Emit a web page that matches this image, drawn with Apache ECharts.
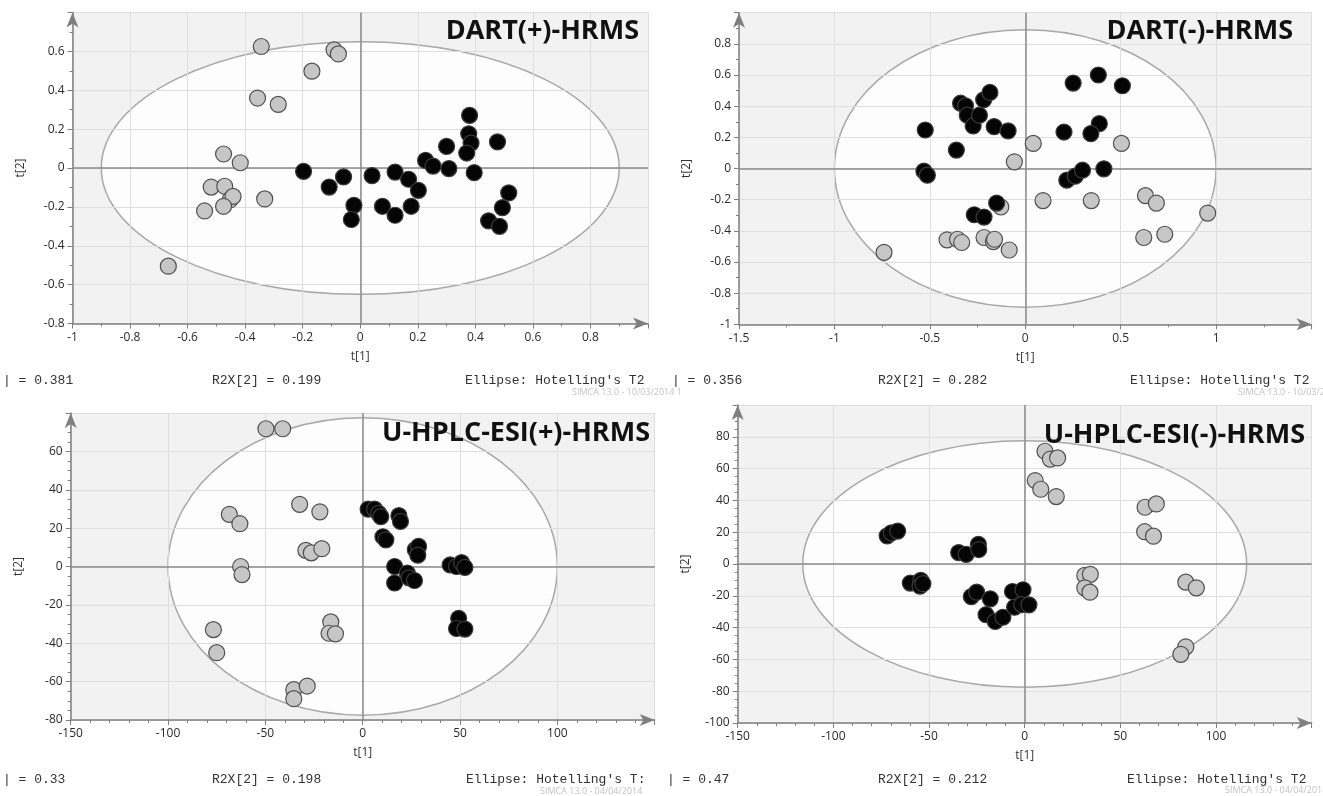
<!DOCTYPE html>
<html>
<head>
<meta charset="utf-8">
<script src="https://cdn.jsdelivr.net/npm/echarts@6/dist/echarts.min.js"></script>
<style>
html,body{margin:0;padding:0;background:#fff;}
#main{width:1323px;height:796px;}
</style>
</head>
<body>
<div id="main"></div>
<script>
// score points [t1, t2]
var dartPosGray = [[-0.344,0.625],[-0.091,0.608],[-0.076,0.587],[-0.168,0.498],[-0.357,0.36],[-0.285,0.327],[-0.475,0.072],[-0.417,0.027],[-0.518,-0.098],[-0.471,-0.094],[-0.452,-0.163],[-0.442,-0.146],[-0.475,-0.197],[-0.541,-0.221],[-0.332,-0.159],[-0.667,-0.505]];
var dartPosBlack = [[-0.197,-0.017],[-0.108,-0.098],[-0.058,-0.046],[-0.022,-0.192],[-0.031,-0.265],[0.041,-0.039],[0.077,-0.197],[0.121,-0.021],[0.121,-0.243],[0.168,-0.058],[0.177,-0.197],[0.202,-0.115],[0.227,0.039],[0.253,0.01],[0.3,0.111],[0.308,-0.003],[0.38,0.271],[0.377,0.176],[0.385,0.128],[0.37,0.077],[0.396,-0.024],[0.477,0.134],[0.446,-0.272],[0.484,-0.3],[0.494,-0.204],[0.516,-0.128]];

var dartNegGray = [[0.042,0.161],[-0.057,0.043],[0.504,0.161],[0.093,-0.206],[0.346,-0.206],[0.63,-0.174],[0.687,-0.222],[0.956,-0.286],[0.621,-0.443],[0.731,-0.422],[-0.74,-0.538],[-0.41,-0.458],[-0.355,-0.454],[-0.333,-0.475],[-0.216,-0.443],[-0.167,-0.469],[-0.161,-0.454],[-0.084,-0.523],[-0.128,-0.247]];
var dartNegBlack = [[-0.524,0.247],[-0.531,-0.017],[-0.513,-0.043],[-0.361,0.118],[-0.339,0.419],[-0.313,0.402],[-0.304,0.342],[-0.273,0.273],[-0.24,0.342],[-0.218,0.441],[-0.185,0.488],[-0.163,0.269],[-0.09,0.241],[-0.267,-0.297],[-0.216,-0.312],[-0.15,-0.222],[0.203,0.234],[0.251,0.548],[0.383,0.6],[0.509,0.531],[0.388,0.288],[0.344,0.224],[0.218,-0.075],[0.262,-0.049],[0.3,-0.011],[0.412,-0.002]];

var esiPosGray = [[-49.7,71.8],[-41.1,71.8],[-32.4,32.4],[-22,28.5],[-68.5,27.2],[-63.1,22.3],[-29.2,8.4],[-26.4,7.1],[-21,9.3],[-62.7,0],[-62,-4.2],[-16.4,-28.9],[-17.3,-34.8],[-14,-35.1],[-76.7,-32.9],[-75,-44.9],[-35.4,-64.2],[-28.5,-62.3],[-35.4,-68.9]];
var esiPosBlack = [[2.8,29.9],[6.1,29.9],[8.2,27.7],[9.3,26],[18.6,26.5],[19.4,23.5],[10.4,15.5],[11.9,13.9],[16.4,0],[16.4,-8.6],[22.9,-3.4],[23.8,-5.9],[26.6,-7.3],[27,8.8],[28.7,10.5],[28.3,5.9],[44.9,0.8],[48.2,0],[50.8,2],[52.5,-0.5],[49.3,-27],[48.2,-32.3],[52.5,-32.6]];

var esiNegGray = [[10.6,70.9],[13.4,66],[17.2,66.7],[5.5,52.5],[8.4,47],[16.5,42.4],[62.9,35.7],[68.8,37.8],[62.7,20.3],[67.3,17.5],[31.4,-7.2],[34.3,-6.5],[31.4,-15],[34.1,-17.7],[84.2,-11.4],[89.7,-15],[84.2,-52.1],[81.6,-56.8]];
var esiNegBlack = [[-71.9,17.7],[-69.7,19.6],[-66.4,20.7],[-34.5,7.2],[-30.6,6.1],[-24.2,12.4],[-24,9.1],[-59.8,-12],[-54.3,-10.3],[-54.7,-13.9],[-53.2,-12.4],[-27.9,-20.5],[-25.1,-17.7],[-18,-21.9],[-20.2,-31.9],[-15.4,-36.1],[-11.4,-33.5],[-6.4,-17.3],[-0.9,-16.2],[-5.3,-27.2],[-1.5,-25.5],[2.2,-25.7]];

// Hotelling's T2 ellipse semi-axes per panel
var ellipseRx = [0.9, 1.0, 100, 116];
var ellipseRy = [0.65, 0.89, 77.5, 77.5];

// axis ranges per panel
var xMin = [-1, -1.5, -150, -150];
var xMax = [1, 1.5, 150, 150];
var xStep = [0.2, 0.5, 50, 50];
var yMin = [-0.8, -1, -80, -100];
var yMax = [0.8, 1, 80, 100];
var yStep = [0.2, 0.2, 20, 20];

var panelTitles = ['DART(+)-HRMS', 'DART(-)-HRMS', 'U-HPLC-ESI(+)-HRMS', 'U-HPLC-ESI(-)-HRMS'];
var r2x1Text = ['| = 0.381', '| = 0.356', '| = 0.33', '| = 0.47'];
var r2x2Text = ['R2X[2] = 0.199', 'R2X[2] = 0.282', 'R2X[2] = 0.198', 'R2X[2] = 0.212'];
var ellipseText = ["Ellipse: Hotelling's T2", "Ellipse: Hotelling's T2", "Ellipse: Hotelling's T:", "Ellipse: Hotelling's T2"];

var grayPts = [dartPosGray, dartNegGray, esiPosGray, esiNegGray];
var blackPts = [dartPosBlack, dartNegBlack, esiPosBlack, esiNegBlack];

var myChart = echarts.init(document.getElementById('main'));

var grids = [
	{left:72.5, top:12.5, width:575.5, height:311},
	{left:739, top:12.7, width:572.5, height:311.6},
	{left:70.7, top:413, width:584, height:307},
	{left:737.7, top:405, width:574, height:318}
];
var minorX = [2, 2, 5, 5];
var minorY = [2, 2, 4, 4];
var axisCol = '#7f7f7f';
var labFont = 'Open Sans';

var xAxes = [], yAxes = [], series = [], graphics = [];
for (var i = 0; i < 4; i++) {
	grids[i].show = true;
	grids[i].backgroundColor = '#f2f2f2';
	grids[i].borderWidth = 0;
	grids[i].z = -2;
	xAxes.push({
		type:'value', gridIndex:i, min:xMin[i], max:xMax[i], interval:xStep[i], z:0,
		name:'t[1]', nameLocation:'middle', nameGap:27,
		nameTextStyle:{color:'#333', fontSize:12, fontFamily:labFont},
		axisLine:{onZero:false, symbol:['none','arrow'], symbolSize:[9,15], lineStyle:{color:axisCol, width:1.5}},
		axisTick:{show:true, length:5, lineStyle:{color:axisCol}},
		minorTick:{show:true, splitNumber:minorX[i], length:3, lineStyle:{color:axisCol}},
		axisLabel:{color:'#2a2a2a', fontSize:12, fontFamily:labFont, margin:8, showMaxLabel:false},
		splitLine:{show:true, lineStyle:{color:'#dedede', width:1}}
	});
	yAxes.push({
		type:'value', gridIndex:i, min:yMin[i], max:yMax[i], interval:yStep[i], z:0,
		name:'t[2]', nameLocation:'middle', nameGap:46, nameRotate:90,
		nameTextStyle:{color:'#333', fontSize:12, fontFamily:labFont},
		axisLine:{onZero:false, symbol:['none','arrow'], symbolSize:[9,15], lineStyle:{color:axisCol, width:1.5}},
		axisTick:{show:true, length:5, lineStyle:{color:axisCol}},
		minorTick:{show:true, splitNumber:minorY[i], length:3, lineStyle:{color:axisCol}},
		axisLabel:{color:'#2a2a2a', fontSize:12, fontFamily:labFont, margin:8, showMaxLabel:false},
		splitLine:{show:true, lineStyle:{color:'#dedede', width:1}}
	});
	// ellipse (white inside, grid lines still faintly visible)
	series.push({
		type:'custom', xAxisIndex:i, yAxisIndex:i, z:-1, silent:true,
		data:[[ellipseRx[i], ellipseRy[i]]],
		renderItem:function(params, api){
			var c = api.coord([0, 0]);
			var ex = api.coord([api.value(0), 0]);
			var ey = api.coord([0, api.value(1)]);
			return {
				type:'ellipse',
				shape:{cx:c[0], cy:c[1], rx:ex[0]-c[0], ry:c[1]-ey[1]},
				style:{fill:'rgba(255,255,255,0.8)', stroke:'#a8a8a8', lineWidth:1.5}
			};
		}
	});
	series.push({
		type:'scatter', xAxisIndex:i, yAxisIndex:i, z:2,
		symbolSize:16,
		data:grayPts[i],
		itemStyle:{color:'#c6c6c6', borderColor:'#505050', borderWidth:1.2, opacity:1},
		markLine:{
			silent:true, symbol:'none', z:1, animation:false,
			label:{show:false},
			lineStyle:{color:'#8a8a8a', width:1.5, type:'solid'},
			data:[{xAxis:0},{yAxis:0}]
		}
	});
	series.push({
		type:'scatter', xAxisIndex:i, yAxisIndex:i, z:3,
		symbolSize:16,
		data:blackPts[i],
		itemStyle:{color:'#050505', borderColor:'#3a3a3a', borderWidth:1.2, opacity:1}
	});
}

// panel titles and footers
var titleRight = [639, 1293, 650, 1305];
var titleY = [31, 31, 433, 435];
var footX1 = [3, 672, 3, 667];
var footX2 = [212, 878, 212, 878];
var footX3 = [465, 1130, 466, 1127];
var footY = [381, 381, 780, 780];
for (var j = 0; j < 4; j++) {
	graphics.push({type:'text', z:100, style:{text:panelTitles[j], x:titleRight[j], y:titleY[j], textAlign:'right', textVerticalAlign:'middle', font:'bold 27px "Open Sans"', fill:'#111'}});
	graphics.push({type:'text', z:100, style:{text:r2x1Text[j], x:footX1[j], y:footY[j], textVerticalAlign:'middle', font:'13px "Liberation Mono"', fill:'#333'}});
	graphics.push({type:'text', z:100, style:{text:r2x2Text[j], x:footX2[j], y:footY[j], textVerticalAlign:'middle', font:'13px "Liberation Mono"', fill:'#333'}});
	graphics.push({type:'text', z:100, style:{text:ellipseText[j], x:footX3[j], y:footY[j], textVerticalAlign:'middle', font:'13px "Liberation Mono"', fill:'#333'}});
}
var stampText = ['SIMCA 13.0 - 10/03/2014 1', 'SIMCA 13.0 - 10/03/2014 1', 'SIMCA 13.0 - 04/04/2014', 'SIMCA 13.0 - 04/04/2014'];
var stampX = [572, 1238, 540, 1225];
var stampY = [392, 392, 791, 790];
for (var k = 0; k < 4; k++) {
	graphics.push({type:'text', z:100, style:{text:stampText[k], x:stampX[k], y:stampY[k], textVerticalAlign:'middle', font:'9px "Open Sans"', fill:'#c4c4c4'}});
}

var option = {
	animation:false,
	backgroundColor:'#fff',
	grid:grids,
	xAxis:xAxes,
	yAxis:yAxes,
	series:series,
	graphic:graphics
};
myChart.setOption(option);
</script>
</body>
</html>
